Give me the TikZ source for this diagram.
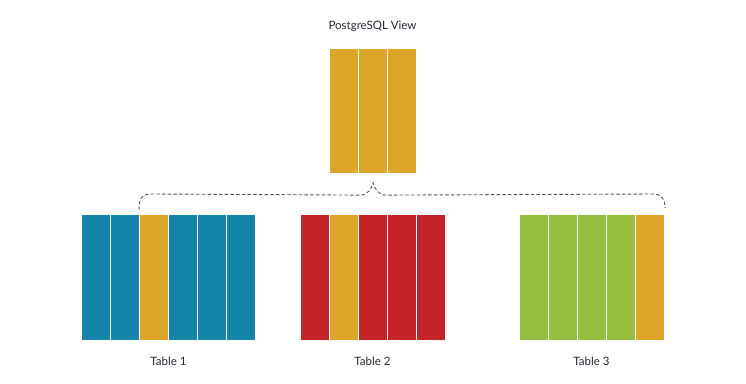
\documentclass[tikz,border=0pt]{standalone}
\usepackage{fontspec}
\setmainfont{Lato}
\usetikzlibrary{calc}
\definecolor{cblue}{HTML}{1484A8}
\definecolor{corange}{HTML}{DEA629}
\definecolor{cred}{HTML}{C32428}
\definecolor{cgreen}{HTML}{94BE3D}
\definecolor{ctext}{HTML}{222630}
\definecolor{cdash}{HTML}{505560}
\begin{document}
\begin{tikzpicture}[x=1pt,y=-1pt,
  colbox/.style={fill=#1, draw=white, line width=1.1pt, minimum width=29pt, minimum height=126pt, inner sep=0pt, anchor=north west},
  vcol/.style={colbox=corange, minimum height=125pt},
  lbl/.style={text=ctext, font=\fontsize{11.5}{13}\selectfont, inner sep=0pt},
  conn/.style={draw=cdash, line width=0.9pt, dash pattern=on 3.5pt off 2.2pt}]
\useasboundingbox (0,0) rectangle (746,383);
% view
\node[lbl] (title) at (372.5,26) {PostgreSQL View};
\foreach \i in {1,2,3} {
  \node[vcol] (v\i) at ({329+29*(\i-1)},48) {};
}
% table 1
\foreach \c [count=\i] in {cblue,cblue,corange,cblue,cblue,cblue} {
  \node[colbox=\c] (ta\i) at ({81+29*(\i-1)},214) {};
}
% table 2
\foreach \c [count=\i] in {cred,corange,cred,cred,cred} {
  \node[colbox=\c] (tb\i) at ({300+29*(\i-1)},214) {};
}
% table 3
\foreach \c [count=\i] in {cgreen,cgreen,cgreen,cgreen,corange} {
  \node[colbox=\c] (tc\i) at ({519+29*(\i-1)},214) {};
}
\node[lbl] (l1) at (168.5,361) {Table 1};
\node[lbl] (l2) at (372.5,361) {Table 2};
\node[lbl] (l3) at (591.5,361) {Table 3};
% connector
\coordinate (L) at ([yshift=4pt]ta3.north west);
\coordinate (R) at ([yshift=6pt]tc5.north east);
\coordinate (P) at ([yshift=-8.5pt]v2.south);
\draw[conn] (L) .. controls ($(L)+(0,-12)$) and ($(L)+(3,-16)$) .. ($(L)+(13,-16)$)
  -- ($(P)+(-13,12.5)$) .. controls ($(P)+(-5,12.5)$) and ($(P)+(-1.5,6)$) .. (P)
  .. controls ($(P)+(1.5,6)$) and ($(P)+(5,12.5)$) .. ($(P)+(13,12.5)$)
  -- ($(R)+(-12,-14)$) .. controls ($(R)+(-4,-14)$) and ($(R)+(0,-9)$) .. (R);
\end{tikzpicture}
\end{document}
